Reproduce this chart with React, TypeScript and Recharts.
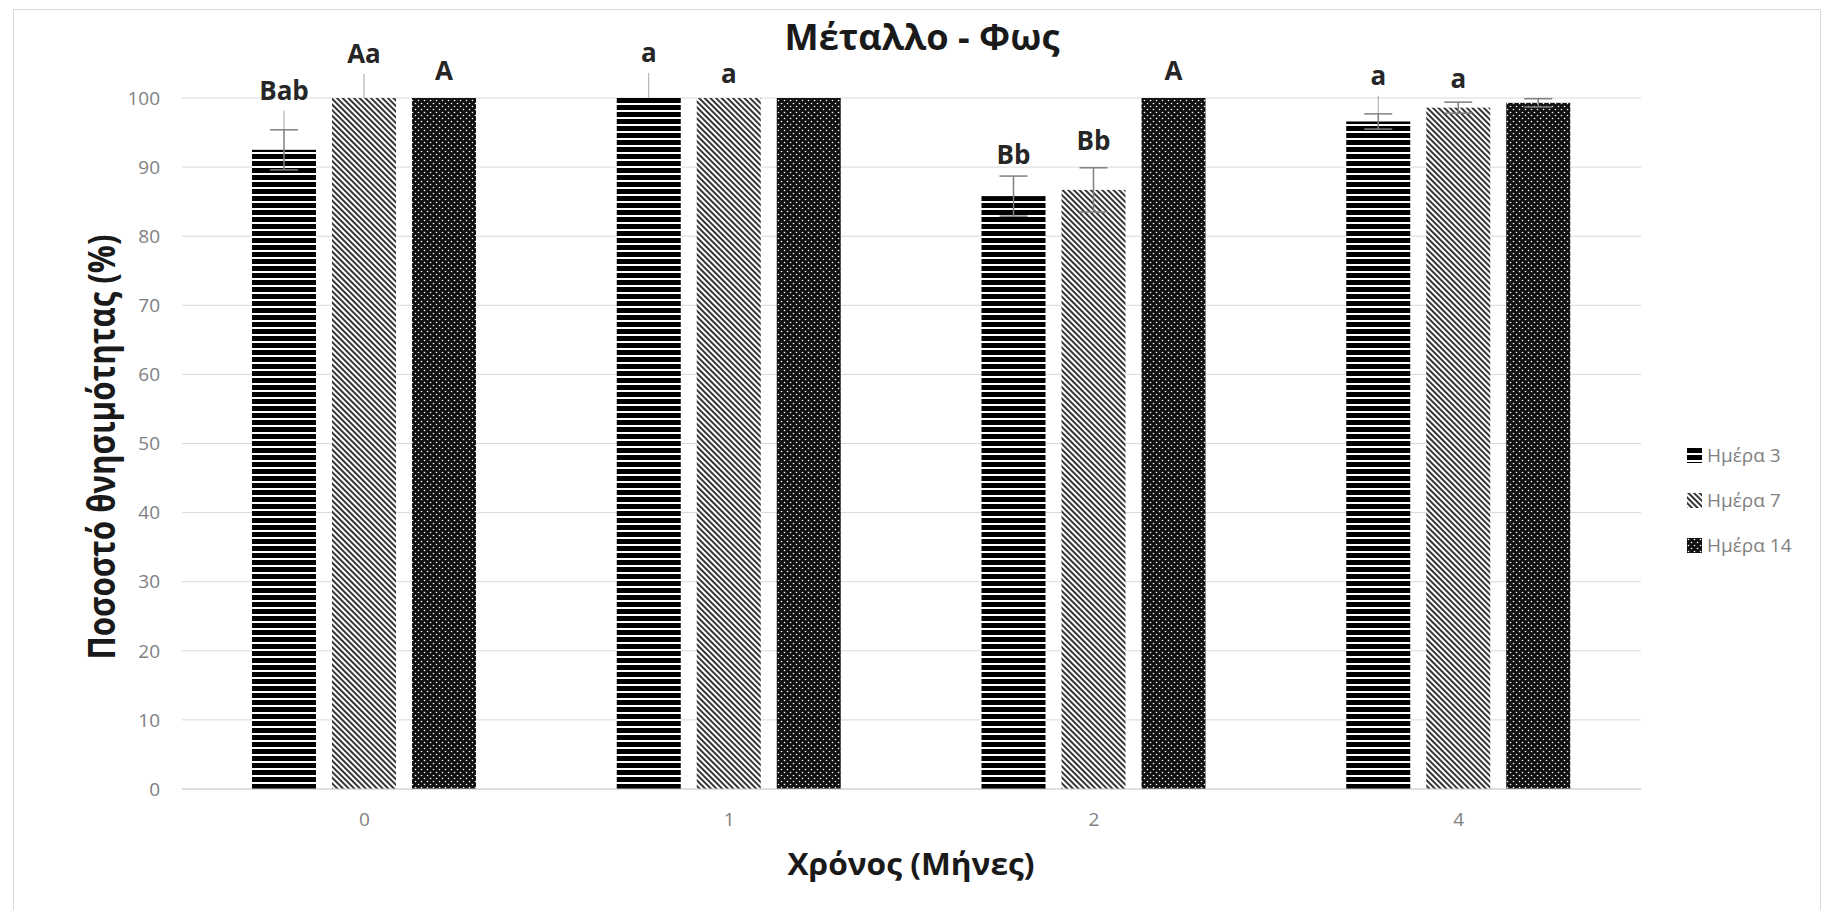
import React from "react";
import { BarChart, Bar, XAxis, YAxis, CartesianGrid, ErrorBar } from "recharts";

const months = ["0", "1", "2", "4"];
const seriesNames = ["Ημέρα 3", "Ημέρα 7", "Ημέρα 14"];
const day3 = [92.5, 100, 85.8, 96.6];
const day7 = [100, 100, 86.7, 98.6];
const day14 = [100, 100, 100, 99.3];
const day3Err = [2.9, null, 2.9, 1.1];
const day7Err = [null, null, 3.2, 0.8];
const day14Err = [null, null, null, 0.6];
const day3Letters = ["Bab", "a", "Bb", "a"];
const day7Letters = ["Aa", "a", "Bb", "a"];
const day14Letters = ["A", "", "A", ""];
const yTicks = [0, 10, 20, 30, 40, 50, 60, 70, 80, 90, 100];

// labels that were dragged up in the original get a leader line (lift > 10)
const day3Lift = [15, 21, -3, 14];
const day7Lift = [20, 0, 3, -1];
const day14Lift = [3, 0, 3, 0];

const data = months.map((month, i) => ({
  month,
  d3: day3[i],
  d7: day7[i],
  d14: day14[i],
  e3: day3Err[i],
  e7: day7Err[i],
  e14: day14Err[i],
}));

const FONT = "'Open Sans', 'Noto Sans', sans-serif";
const patternIds = ["pDay3", "pDay7", "pDay14"];

function makeShape(values: number[], errs: (number | null)[], letters: string[], lifts: number[]) {
  return (props: any) => {
    const { x, y, width, height, fill, payload } = props;
    const i = months.indexOf(payload.month);
    const perUnit = height / values[i];
    const errTop = y - (errs[i] ?? 0) * perUnit;
    const baseline = errTop - 15 - lifts[i];
    const cx = x + width / 2;
    return (
      <g>
        <rect x={x} y={y} width={width} height={height} fill={fill} />
        {lifts[i] > 10 && (
          <line x1={cx} x2={cx} y1={errTop} y2={baseline + 11} stroke="#a6a6a6" strokeWidth={1} />
        )}
        {letters[i] && (
          <text x={cx} y={baseline} textAnchor="middle" fontFamily={FONT} fontSize={26} fontWeight={700} fill="#262626">
            {letters[i]}
          </text>
        )}
      </g>
    );
  };
}

function Patterns() {
  return (
    <svg width={0} height={0} style={{ position: "absolute" }}>
      <defs>
        <pattern id="pDay3" patternUnits="userSpaceOnUse" width={8} height={7}>
          <rect width={8} height={7} fill="#fff" />
          <rect width={8} height={5} fill="#000" />
        </pattern>
        <pattern id="pDay7" patternUnits="userSpaceOnUse" width={4} height={4} patternTransform="rotate(-45)">
          <rect width={4} height={4} fill="#fff" />
          <rect width={1.9} height={4} fill="#2b2b2b" />
        </pattern>
        <pattern id="pDay14" patternUnits="userSpaceOnUse" width={6} height={6}>
          <rect width={6} height={6} fill="#111" />
          <circle cx={1.5} cy={1.5} r={0.8} fill="#fff" />
          <circle cx={4.5} cy={4.5} r={0.8} fill="#fff" />
        </pattern>
      </defs>
    </svg>
  );
}

export default function App() {
  return (
    <div style={{ position: "absolute", left: 0, top: 0, width: 1830, height: 910, background: "#fff" }}>
      <Patterns />
      <div
        style={{
          position: "absolute",
          left: 13,
          top: 9,
          width: 1806,
          height: 910,
          borderLeft: "1px solid #d9d9d9",
          borderTop: "1px solid #d9d9d9",
          borderRight: "1px solid #d9d9d9",
        }}
      />
      <BarChart
        width={1830}
        height={910}
        data={data}
        margin={{ top: 98, right: 189, bottom: 81, left: 122 }}
        barSize={64}
        barGap={16}
        style={{ position: "absolute", left: 0, top: 0 }}
      >
        <CartesianGrid vertical={false} stroke="#d9d9d9" />
        <XAxis
          dataKey="month"
          height={40}
          axisLine={{ stroke: "#d0d0d0" }}
          tickLine={false}
          tickMargin={18}
          tick={{ fontSize: 19, fill: "#808080", fontFamily: FONT }}
        />
        <YAxis
          domain={[0, 100]}
          ticks={yTicks}
          width={60}
          axisLine={false}
          tickLine={false}
          tickMargin={16}
          tick={{ fontSize: 19, fill: "#808080", fontFamily: FONT }}
        />
        <Bar dataKey="d3" fill="url(#pDay3)" isAnimationActive={false} shape={makeShape(day3, day3Err, day3Letters, day3Lift)}>
          <ErrorBar dataKey="e3" width={14} stroke="#7f7f7f" strokeWidth={1.5} direction="y" />
        </Bar>
        <Bar dataKey="d7" fill="url(#pDay7)" isAnimationActive={false} shape={makeShape(day7, day7Err, day7Letters, day7Lift)}>
          <ErrorBar dataKey="e7" width={14} stroke="#7f7f7f" strokeWidth={1.5} direction="y" />
        </Bar>
        <Bar dataKey="d14" fill="url(#pDay14)" isAnimationActive={false} shape={makeShape(day14, day14Err, day14Letters, day14Lift)}>
          <ErrorBar dataKey="e14" width={14} stroke="#7f7f7f" strokeWidth={1.5} direction="y" />
        </Bar>
      </BarChart>
      <svg width={1830} height={910} style={{ position: "absolute", left: 0, top: 0, pointerEvents: "none" }}>
        <text x={922} y={50} textAnchor="middle" fontFamily={FONT} fontSize={35} fontWeight={700} fill="#1a1a1a" textLength={275} lengthAdjust="spacingAndGlyphs">
          Μέταλλο - Φως
        </text>
        <text x={911} y={875} textAnchor="middle" fontFamily={FONT} fontSize={31} fontWeight={700} fill="#1a1a1a" textLength={247} lengthAdjust="spacingAndGlyphs">
          Χρόνος (Μήνες)
        </text>
        <text transform="translate(115,447) rotate(-90)" textAnchor="middle" fontFamily={FONT} fontSize={38} fontWeight={700} fill="#1a1a1a" textLength={425} lengthAdjust="spacingAndGlyphs">
          Ποσοστό θνησιμότητας (%)
        </text>
      </svg>
      {seriesNames.map((name, k) => (
        <div
          key={name}
          style={{
            position: "absolute",
            left: 1687,
            top: 455 + k * 45 - 12,
            height: 24,
            display: "flex",
            alignItems: "center",
            fontFamily: FONT,
            fontSize: 19,
            color: "#808080",
            whiteSpace: "nowrap",
          }}
        >
          <svg width={15} height={15} style={{ marginRight: 5 }}>
            <rect width={15} height={15} fill={`url(#${patternIds[k]})`} />
          </svg>
          {name}
        </div>
      ))}
    </div>
  );
}
